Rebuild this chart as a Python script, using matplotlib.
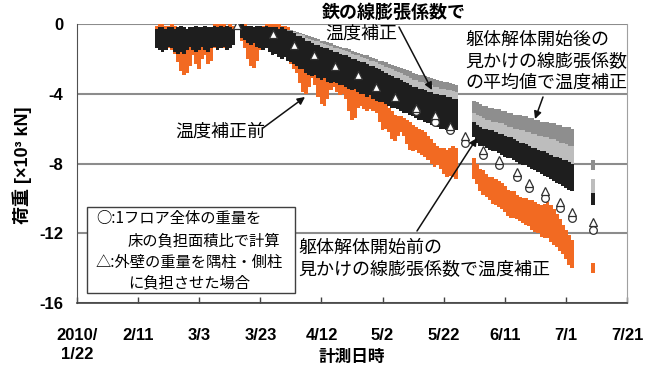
import matplotlib
matplotlib.use('Agg')
import matplotlib.pyplot as plt
import matplotlib.dates as mdates
import numpy as np
import pandas as pd
from matplotlib.patches import Rectangle

# ---------------- data ----------------
BASE = pd.Timestamp('2010-01-22')
# measurement days (offset in days from 2010/1/22)
days = list(range(26, 52)) + list(range(54, 125)) + list(range(130, 163)) + [169]

# black: corrected with apparent coefficient before demolition
black_hi = [-0.3, -0.2, -0.2, -0.3, -0.2, -0.2, -0.3, -0.2, -0.1, -0.2, -0.3, -0.2, -0.2,
            -0.1, -0.2, -0.2, -0.1, -0.2, -0.2, -0.1, -0.2, -0.1, -0.2, -0.1, -0.2, -0.3,
            -0.0, -0.1, -0.1, -0.1, -0.2, -0.1, -0.1, -0.2, -0.1, -0.2,
            -0.2, -0.2, -0.3, -0.2, -0.3, -0.4, -0.4, -0.5, -0.7, -0.7,
            -0.8, -1.0, -1.0, -1.1, -1.2, -1.2, -1.3, -1.4, -1.4, -1.5,
            -1.6, -1.6, -1.7, -1.8, -1.8, -1.9, -2.0, -2.0, -2.1, -2.2,
            -2.2, -2.3, -2.4, -2.4, -2.5, -2.6, -2.7, -2.8, -2.9, -3.0,
            -3.1, -3.1, -3.2, -3.3, -3.4, -3.5, -3.6, -3.6, -3.7, -3.7,
            -3.8, -3.9, -3.9, -4.0, -4.0, -4.1, -4.1, -4.2, -4.2, -4.3, -4.3,
            -5.6, -5.8, -5.9, -6.0, -6.0, -6.1, -6.1, -6.2, -6.3, -6.3,
            -6.4, -6.5, -6.5, -6.6, -6.7, -6.8, -6.8, -6.9, -7.0, -7.1,
            -7.1, -7.2, -7.3, -7.3, -7.4, -7.5, -7.6, -7.6, -7.7, -7.8,
            -7.8, -7.9, -8.0,
            -9.7]
black_lo = [-1.4, -1.5, -1.6, -1.5, -1.3, -1.4, -1.6, -1.7, -1.6, -1.7, -1.5, -1.3, -1.5,
            -1.6, -1.5, -1.3, -1.5, -1.6, -1.4, -1.3, -1.5, -1.4, -1.3, -1.5, -1.4, -1.2,
            -0.8, -0.9, -1.1, -1.2, -1.1, -1.3, -1.4, -1.5, -1.4, -1.6,
            -1.8, -1.7, -1.9, -2.0, -1.9, -2.1, -2.2, -2.3, -2.4, -2.6,
            -2.6, -2.8, -2.9, -3.0, -2.9, -3.1, -3.2, -3.1, -3.3, -3.4,
            -3.3, -3.4, -3.5, -3.5, -3.6, -3.7, -3.8, -3.7, -3.9, -4.0,
            -4.0, -4.2, -4.1, -4.3, -4.4, -4.5, -4.5, -4.6, -4.7, -4.8,
            -4.8, -4.9, -5.0, -5.1, -5.1, -5.2, -5.3, -5.4, -5.5, -5.5,
            -5.6, -5.7, -5.8, -5.8, -5.9, -6.0, -6.0, -6.1, -6.1, -6.2, -6.1,
            -6.5, -6.8, -7.0, -7.0, -7.1, -7.2, -7.3, -7.3, -7.4, -7.5,
            -7.6, -7.7, -7.7, -7.8, -7.9, -8.0, -8.1, -8.1, -8.2, -8.3,
            -8.4, -8.5, -8.6, -8.7, -8.8, -8.9, -9.0, -9.1, -9.2, -9.3,
            -9.4, -9.5, -9.6,
            -10.4]

# light gray: corrected with steel coefficient
lgray_hi = [-0.3] * 26 + [
            -0.0, -0.1, -0.1, -0.1, -0.2, -0.1, -0.1, -0.2, -0.1, -0.2,
            -0.2, -0.2, -0.3, -0.2, -0.3, -0.4, -0.4, -0.45, -0.55, -0.6,
            -0.65, -0.8, -0.85, -0.9, -0.95, -1.0, -1.1, -1.15, -1.2, -1.25,
            -1.35, -1.4, -1.45, -1.5, -1.55, -1.6, -1.7, -1.75, -1.8, -1.9,
            -1.95, -2.0, -2.1, -2.15, -2.2, -2.3, -2.35, -2.45, -2.55, -2.6,
            -2.7, -2.75, -2.8, -2.9, -3.0, -3.1, -3.2, -3.2, -3.3, -3.35,
            -3.4, -3.5, -3.5, -3.6, -3.6, -3.7, -3.7, -3.8, -3.8, -3.85, -3.9,
            -5.1, -5.2, -5.3, -5.4, -5.5, -5.5, -5.6, -5.6, -5.7, -5.7,
            -5.8, -5.9, -5.9, -6.0, -6.0, -6.1, -6.1, -6.2, -6.2, -6.3,
            -6.3, -6.4, -6.4, -6.5, -6.5, -6.6, -6.6, -6.7, -6.8, -6.8,
            -6.9, -7.0, -7.0,
            -8.9]
lgray_lo = [-1.2] * 26 + [
            -0.8, -0.9, -1.0, -1.1, -1.1, -1.2, -1.3, -1.4, -1.4, -1.5,
            -1.6, -1.7, -1.8, -1.9, -1.9, -2.0, -2.1, -2.2, -2.3, -2.4,
            -2.5, -2.6, -2.7, -2.8, -2.8, -2.9, -3.0, -3.0, -3.1, -3.2,
            -3.2, -3.3, -3.4, -3.4, -3.5, -3.6, -3.6, -3.7, -3.8, -3.8,
            -3.9, -4.0, -4.0, -4.1, -4.2, -4.3, -4.3, -4.4, -4.5, -4.6,
            -4.6, -4.7, -4.8, -4.9, -4.9, -5.0, -5.1, -5.2, -5.2, -5.3,
            -5.4, -5.4, -5.5, -5.5, -5.6, -5.7, -5.7, -5.8, -5.8, -5.9, -5.9,
            -6.2, -6.3, -6.4, -6.5, -6.6, -6.6, -6.7, -6.7, -6.8, -6.8,
            -6.9, -7.0, -7.0, -7.1, -7.1, -7.2, -7.2, -7.3, -7.3, -7.4,
            -7.4, -7.5, -7.5, -7.6, -7.6, -7.7, -7.7, -7.8, -7.9, -7.9,
            -8.0, -8.1, -8.2,
            -9.7]

# dark gray: corrected with mean apparent coefficient after demolition start
dgray_hi = [-0.3] * 26 + [
            -0.0, -0.1, -0.1, -0.1, -0.2, -0.1, -0.1, -0.2, -0.1, -0.2,
            -0.2, -0.2, -0.3, -0.2, -0.3, -0.35, -0.35, -0.4, -0.45, -0.5,
            -0.55, -0.65, -0.7, -0.75, -0.8, -0.85, -0.95, -1.0, -1.05, -1.1,
            -1.2, -1.25, -1.3, -1.35, -1.4, -1.45, -1.55, -1.6, -1.65, -1.7,
            -1.75, -1.8, -1.9, -1.95, -2.0, -2.1, -2.15, -2.2, -2.3, -2.35,
            -2.4, -2.45, -2.5, -2.6, -2.65, -2.7, -2.8, -2.85, -2.9, -2.95,
            -3.0, -3.05, -3.1, -3.15, -3.2, -3.25, -3.3, -3.35, -3.4, -3.45, -3.5,
            -4.4, -4.5, -4.6, -4.7, -4.7, -4.8, -4.8, -4.9, -4.9, -5.0,
            -5.0, -5.1, -5.1, -5.2, -5.2, -5.2, -5.3, -5.3, -5.4, -5.4,
            -5.5, -5.5, -5.6, -5.6, -5.6, -5.7, -5.7, -5.8, -5.8, -5.9,
            -5.9, -5.9, -6.0,
            -7.8]
dgray_lo = [-1.2] * 26 + [
            -0.8, -0.9, -1.0, -1.1, -1.1, -1.2, -1.3, -1.4, -1.4, -1.5,
            -1.6, -1.7, -1.8, -1.9, -1.9, -2.0, -2.1, -2.2, -2.3, -2.4,
            -2.5, -2.6, -2.7, -2.8, -2.8, -2.9, -3.0, -3.0, -3.1, -3.2,
            -3.2, -3.3, -3.4, -3.4, -3.5, -3.6, -3.6, -3.7, -3.8, -3.8,
            -3.9, -4.0, -4.0, -4.1, -4.2, -4.3, -4.3, -4.4, -4.5, -4.6,
            -4.6, -4.7, -4.8, -4.9, -4.9, -5.0, -5.1, -5.2, -5.2, -5.3,
            -5.4, -5.4, -5.5, -5.5, -5.6, -5.7, -5.7, -5.8, -5.8, -5.9, -5.9,
            -5.3, -5.4, -5.5, -5.6, -5.7, -5.7, -5.8, -5.9, -5.9, -6.0,
            -6.0, -6.1, -6.2, -6.2, -6.3, -6.3, -6.4, -6.4, -6.5, -6.5,
            -6.6, -6.6, -6.7, -6.7, -6.8, -6.8, -6.8, -6.9, -6.9, -7.0,
            -7.0, -7.0, -7.1,
            -8.4]

# orange: before temperature correction
orange_hi = [-0.1, 0.0, 0.0, -0.1, -0.1, 0.0, -0.1, -0.2, -0.3, -0.3, -0.3, -0.3, -0.2,
             -0.2, -0.3, -0.2, -0.1, -0.2, -0.2, 0.0, 0.0, 0.0, 0.0, -0.1, 0.0, -0.1,
             0.0, 0.0, -0.1, -0.2, -0.3, -0.3, -0.2, -0.1, 0.0, 0.0,
             0.0, 0.0, 0.0, -0.1, -0.1, -0.2, -0.4, -0.6, -0.8, -1.0,
             -1.2, -1.3, -1.4, -1.5, -1.6, -1.7, -1.9, -2.0, -2.1, -2.3,
             -2.5, -2.7, -2.8, -2.9, -2.9, -3.1, -3.3, -3.4, -3.6, -3.7,
             -3.8, -3.8, -3.9, -4.0, -4.1, -4.3, -4.4, -4.6, -4.8, -5.0,
             -5.2, -5.3, -5.3, -5.4, -5.5, -5.6, -5.8, -5.9, -6.0, -6.1,
             -6.2, -6.4, -6.6, -6.8, -7.0, -7.1, -7.1, -7.2, -7.1, -7.0, -7.1,
             -7.7, -8.0, -8.3, -8.4, -8.6, -8.8, -8.8, -8.9, -9.0, -9.1,
             -9.3, -9.5, -9.6, -9.6, -9.8, -9.9, -10.0, -10.0, -10.1, -10.1,
             -10.2, -10.3, -10.4, -10.3, -10.2, -10.4, -10.6, -10.9, -11.2, -11.5,
             -11.8, -12.1, -12.4,
             -13.7]
orange_lo = [-1.2, -1.3, -1.4, -1.3, -1.4, -1.5, -1.7, -2.2, -2.7, -2.9, -2.8, -2.4, -1.8,
             -2.3, -2.6, -2.0, -1.8, -2.3, -2.1, -1.4, -1.3, -1.2, -1.4, -1.3, -1.2, -1.1,
             -1.0, -1.4, -2.0, -2.4, -2.5, -2.1, -1.5, -1.3, -1.2, -1.3,
             -1.5, -1.6, -1.7, -1.8, -1.9, -2.0, -2.3, -2.6, -2.8, -3.4,
             -3.9, -4.0, -3.6, -3.1, -3.5, -4.2, -4.6, -4.7, -4.3, -3.8,
             -3.6, -3.9, -4.1, -4.0, -4.3, -5.0, -5.5, -5.4, -4.8, -4.7,
             -4.9, -5.0, -4.9, -5.0, -5.1, -5.6, -6.1, -6.0, -6.2, -6.6,
             -6.7, -6.4, -6.2, -6.4, -6.9, -7.2, -7.3, -7.2, -7.4, -7.5,
             -7.6, -7.8, -8.0, -8.2, -8.1, -8.3, -8.6, -8.8, -8.7, -8.8, -8.9,
             -8.9, -9.2, -9.6, -9.8, -9.9, -10.1, -10.3, -10.4, -10.5, -10.6,
             -10.8, -11.0, -11.1, -11.1, -11.2, -11.3, -11.4, -11.5, -11.6, -11.8,
             -11.9, -12.0, -12.2, -12.3, -12.3, -12.5, -12.7, -12.8, -13.0, -13.2,
             -13.5, -13.8, -14.0,
             -14.3]

# open markers (calculated values)
tri_days = [52.5, 64, 71, 77.5, 84.5, 92, 98, 104, 111, 117, 122, 127, 133, 138, 144, 148, 153, 158, 162, 169]
tri_vals = [-0.05, -0.6, -1.2, -1.8, -2.4, -2.9, -3.6, -4.2, -4.8, -5.2, -5.85, -6.4, -7.2, -7.8,
            -8.5, -9.1, -9.6, -10.2, -10.8, -11.35]
circ_days = [111, 117, 122, 127, 133, 138, 144, 148, 153, 158, 162, 169]
circ_vals = [-5.0, -5.6, -6.1, -6.8, -7.5, -8.1, -8.8, -9.4, -9.95, -10.55, -11.1, -11.8]

xtick_days = [0, 20, 40, 60, 80, 100, 120, 140, 160, 180]
xtick_labels = ['2010/\n1/22', '2/11', '3/3', '3/23', '4/12', '5/2', '5/22', '6/11', '7/1', '7/21']
ytick_vals = [-16, -12, -8, -4, 0]
ytick_labels = ['-16', '-12', '-8', '-4', '0']

# ---------------- drawing ----------------
B0 = mdates.date2num(BASE)


def to_x(d):
    return mdates.date2num(BASE + pd.to_timedelta(np.asarray(d, dtype=float), unit='D'))


JP = ['Noto Sans CJK JP', 'DejaVu Sans']
LAT = ['Liberation Sans', 'Noto Sans CJK JP']

fig = plt.figure(figsize=(6.54, 3.69), dpi=100)
ax = fig.add_axes([77 / 654, 1 - 303 / 369, 550 / 654, 279 / 369])

xs = to_x(days)


def band(lo, hi, color, z):
    lo = np.asarray(lo)
    hi = np.asarray(hi)
    ax.bar(xs, hi - lo, bottom=lo, width=1.25, color=color, lw=0, zorder=z)


band(orange_lo, orange_hi, '#F26A22', 2)
band(dgray_lo, dgray_hi, '#8E8E8E', 3)
band(lgray_lo, lgray_hi, '#BDBDBD', 4)
band(black_lo, black_hi, '#1E1E1E', 5)

ax.plot(to_x(circ_days), circ_vals, 'o', ms=5.5, mfc='white', mec='#303030', mew=0.9, zorder=6)
ax.plot(to_x(tri_days), tri_vals, '^', ms=6, mfc='white', mec='#303030', mew=0.9, zorder=7)

ax.set_xlim(to_x(0), to_x(180))
ax.set_ylim(-16, 0)
ax.set_xticks(to_x(xtick_days))
ax.set_xticklabels(xtick_labels, fontfamily=LAT, fontweight='bold', fontsize=12, linespacing=1.35)
ax.set_yticks(ytick_vals)
ax.set_yticklabels(ytick_labels, fontfamily=LAT, fontweight='bold', fontsize=12)
ax.tick_params(axis='x', direction='in', length=4, width=1, color='#404040', pad=18)
ax.tick_params(axis='y', length=0, pad=10)
ax.yaxis.grid(True, color='#8C8C8C', lw=1.5, zorder=0)
ax.set_axisbelow(True)

ax.spines['top'].set_visible(False)
ax.spines['right'].set_color('#A0A0A0')
ax.spines['left'].set_color('#505050')
ax.spines['bottom'].set_color('#404040')
ax.spines['bottom'].set_linewidth(1.2)

# axis titles
fig.text(22 / 654, 1 - 165 / 369, '荷重 [×10³ kN]', rotation=90, ha='center', va='center',
         fontfamily=LAT, fontweight='bold', fontsize=13)
fig.text(352 / 654, 1 - 357 / 369, '計測日時', ha='center', va='center',
         fontfamily=JP, fontweight='bold', fontsize=12)


# helper: pixel -> data (layout positions only)
def px(x, y):
    d = (x - 77) / (550 / 180)
    v = -(y - 24) / (279 / 16)
    return to_x(d), v


def label(x, y, s, **kw):
    p = px(x, y)
    ax.text(p[0], p[1], s, ha='left', va='center', fontfamily=JP, fontsize=13,
            zorder=10, clip_on=False, **kw)


def arrow(x0, y0, x1, y1):
    ax.annotate('', xy=px(x1, y1), xytext=px(x0, y0),
                arrowprops=dict(arrowstyle='-|>', color='#111111', lw=1.1,
                                mutation_scale=11, shrinkA=0, shrinkB=0),
                zorder=10, annotation_clip=False)


label(322, 12, '鉄の線膨張係数で', fontweight='bold')
label(325, 34, '温度補正')
arrow(399, 27, 432, 90)

label(465, 40, '躯体解体開始後の')
label(465, 62, '見かけの線膨張係数')
label(465, 83, 'の平均値で温度補正')
arrow(543, 97, 535, 119)

label(175, 132, '温度補正前')
arrow(263, 128, 305, 97)

label(298, 248, '躯体解体開始前の')
label(298, 270, '見かけの線膨張係数で温度補正')
arrow(417, 231, 477, 138)

# legend box
lx0, ly0 = px(87, 293)
lx1, ly1 = px(295, 207)
ax.add_patch(Rectangle((lx0, ly0), lx1 - lx0, ly1 - ly0,
                       facecolor='white', edgecolor='#404040', lw=1.0, zorder=8))
for (tx, ty, s) in [(96, 219, '○:1フロア全体の重量を'),
                    (128, 241, '床の負担面積比で計算'),
                    (96, 262, '△:外壁の重量を隅柱・側柱'),
                    (128, 283, 'に負担させた場合')]:
    p = px(tx, ty)
    ax.text(p[0], p[1], s, ha='left', va='center', fontfamily=JP, fontsize=11, zorder=9)

fig.savefig('out.png', dpi=100)
